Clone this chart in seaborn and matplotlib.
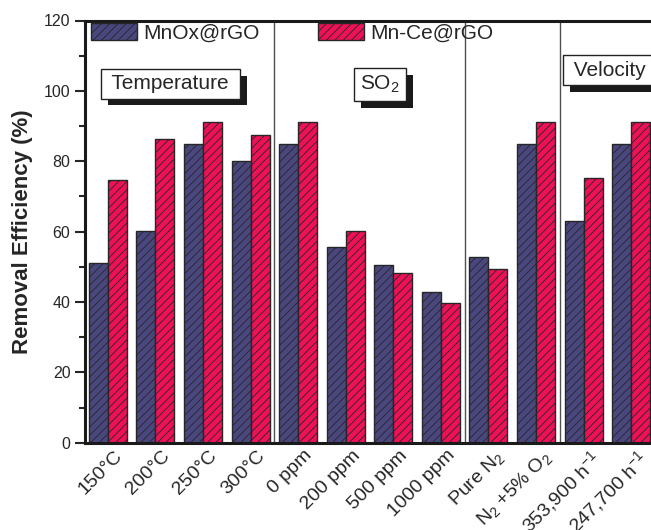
import numpy as np
import pandas as pd
import matplotlib
matplotlib.use("Agg")
import matplotlib.pyplot as plt
import seaborn as sns
from matplotlib.patches import Patch
from matplotlib import patheffects as pe
from matplotlib.transforms import ScaledTranslation

# ---------------- data ----------------
categories = ["150°C", "200°C", "250°C", "300°C",
              "0 ppm", "200 ppm", "500 ppm", "1000 ppm",
              "Pure N$_2$", "N$_2$ +5% O$_2$",
              "353,900 h$^{-1}$", "247,700 h$^{-1}$"]
mnox_values = [51.1, 60.1, 84.8, 80.1, 84.8, 55.7, 50.5, 42.8, 52.8, 84.8, 63.1, 84.8]
mnce_values = [74.6, 86.2, 91.1, 87.5, 91.1, 60.3, 48.3, 39.6, 49.5, 91.1, 75.1, 91.1]
series_names = ["MnOx@rGO", "Mn-Ce@rGO"]
section_labels = ["Temperature", "SO$_2$", "Velocity"]
y_ticks = [0, 20, 40, 60, 80, 100, 120]

colors = ["#4A477F", "#EE1157"]

# ---------------- style ----------------
sns.set_style("ticks")
plt.rcParams["font.family"] = ["Liberation Sans", "DejaVu Sans"]
plt.rcParams["mathtext.fontset"] = "custom"
plt.rcParams["mathtext.rm"] = "Liberation Sans"
plt.rcParams["mathtext.it"] = "Liberation Sans:italic"
plt.rcParams["mathtext.bf"] = "Liberation Sans:bold"
plt.rcParams["hatch.linewidth"] = 0.6

df = pd.DataFrame({
    "condition": categories * 2,
    "value": mnox_values + mnce_values,
    "material": [series_names[0]] * len(categories) + [series_names[1]] * len(categories),
})

W, H = 651, 530
fig = plt.figure(figsize=(W / 100, H / 100), dpi=100)
ax_left, ax_right, ax_top, ax_bottom = 85, 654, 20.5, 442.7
ax = fig.add_axes([ax_left / W, 1 - ax_bottom / H,
                   (ax_right - ax_left) / W, (ax_bottom - ax_top) / H])

sns.barplot(data=df, x="condition", y="value", hue="material",
            order=categories, hue_order=series_names, palette=colors,
            saturation=1, errorbar=None, width=0.8, edgecolor="#262626",
            linewidth=1.0, legend=False, ax=ax, zorder=2)
for p in ax.patches:
    p.set_hatch("////")

ax.set_xlim(-0.48, 11.48)
ax.set_ylim(0, 120)
ax.set_yticks(y_ticks)
ax.set_yticks(np.arange(10, 120, 20), minor=True)
ax.tick_params(axis="y", which="major", direction="out", length=7, width=1.5,
               labelsize=11.5, pad=3.5)
ax.tick_params(axis="y", which="minor", direction="out", length=4, width=1.5)
ax.tick_params(axis="x", length=0, labelsize=14, pad=3)
for sp in ax.spines.values():
    sp.set_linewidth(2.2)
    sp.set_color("#1a1a1a")

offset = ScaledTranslation(4 / 72, 0, fig.dpi_scale_trans)
for lab in ax.get_xticklabels():
    lab.set_rotation(45)
    lab.set_ha("right")
    lab.set_va("top")
    lab.set_rotation_mode("anchor")
    lab.set_transform(lab.get_transform() + offset)

ax.set_xlabel("")
ax.set_ylabel("Removal Efficiency (%)", fontsize=16, fontweight="bold")
ax.yaxis.set_label_coords(-0.092, 0.5)

# section dividers
for xd in [3.5, 7.5, 9.5]:
    ax.axvline(xd, color="#505050", lw=1.0, zorder=1)

# section label boxes with shadow
def shadow_box(x, y, s, pad, ha="center"):
    t = ax.text(x, y, s, fontsize=15, ha=ha, va="center", zorder=5,
                bbox=dict(boxstyle=f"square,pad={pad}", fc="white", ec="#222222", lw=1.0),
                clip_on=False)
    t.get_bbox_patch().set_path_effects([
        pe.SimplePatchShadow(offset=(5, -5), shadow_rgbFace="#1a1a1a", alpha=1.0),
        pe.Normal()])
    return t

shadow_box(1.32, 102.0, " " + section_labels[0] + " ", 0.25)
shadow_box(5.72, 101.8, section_labels[1], 0.3)
shadow_box(9.67, 105.9, " " + section_labels[2] + " ", 0.25, ha="left")

# legend
handles = [Patch(facecolor=c, edgecolor="#262626", hatch="////", lw=1.0, label=n)
           for c, n in zip(colors, series_names)]
fig.legend(handles=handles, loc="upper left", ncol=2, frameon=False,
           bbox_to_anchor=(91 / W, 1 - 23 / H), bbox_transform=fig.transFigure,
           fontsize=15, handlelength=2.2, handleheight=0.9, handletextpad=0.3,
           columnspacing=2.8, borderpad=0, borderaxespad=0)

fig.savefig("out.png", dpi=100)
